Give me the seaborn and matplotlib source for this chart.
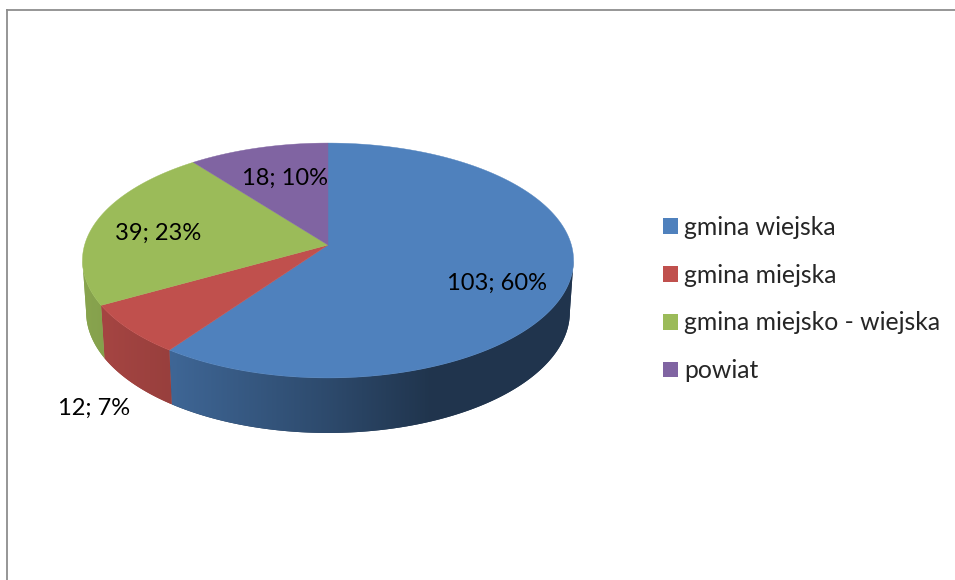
#!/usr/bin/env python3
"""
3D style pie chart of applicants by type of local government
"""

import numpy as np
import matplotlib
matplotlib.use('Agg')
import matplotlib.pyplot as plt
from matplotlib.patches import Patch, Polygon
import seaborn as sns

categories = ['gmina wiejska', 'gmina miejska', 'gmina miejsko - wiejska', 'powiat']
values = [103, 12, 39, 18]
slice_colors = ['#4F81BD', '#C0504D', '#9BBB59', '#8064A2']

# label anchor of each slice, in pixels
label_x = [497, 94, 158, 285]
label_y = [283, 408, 233, 178]


def project(theta, bottom=False):
    """Map an angle (clockwise from top) to the tilted pie, in pixels"""
    u, v = np.sin(theta), np.cos(theta)
    w = 1 + 0.132 * v
    x = 243.4 * u / w
    y = -115.4 * v / w
    if bottom:
        return 328 + 0.985 * x, 245 + 1.03 * y + 51
    return 328 + x, 245 + y


def wall_shade(x):
    """Side wall gets darker from left to right"""
    return np.interp(x, [83, 172, 330, 430], [0.88, 0.79, 0.57, 0.41])


def draw_pie(ax, colors):
    edges = 2 * np.pi * np.concatenate([[0], np.cumsum(values)]) / np.sum(values)
    # the wall runs between the two widest points of the top face
    wall_from = np.arccos(-0.132)
    wall_to = 2 * np.pi - wall_from

    # side wall first, horizontal gradient clipped to each slice's outline
    for i, color in enumerate(colors):
        start, end = max(edges[i], wall_from), min(edges[i + 1], wall_to)
        if start >= end:
            continue
        angles = np.linspace(start, end, 200)
        xt, yt = project(angles)
        xb, yb = project(angles, bottom=True)
        px = np.r_[xt, xb[::-1]]
        py = np.r_[yt, yb[::-1]]
        base = wall_shade(px.mean()) * np.array(color)
        ax.fill(px, py, color=tuple(base), lw=0, zorder=1.5)
        xs = np.linspace(px.min(), px.max(), 400)
        grad = wall_shade(xs)[None, :, None] * np.array(color)[None, None, :]
        im = ax.imshow(grad, extent=[px.min(), px.max(), py.max(), py.min()],
                       aspect='auto', zorder=2, interpolation='bilinear')
        outline = Polygon(np.c_[px, py], closed=True, transform=ax.transData)
        im.set_clip_path(outline)

    # top face
    for i, color in enumerate(colors):
        angles = np.linspace(edges[i], edges[i + 1], 200)
        x, y = project(angles)
        ax.fill(np.r_[328, x], np.r_[245, y], color=color, lw=0.3, zorder=3)


def main():
    sns.set_theme(style='white')
    plt.rcParams['font.family'] = ['Lato', 'DejaVu Sans']

    fig = plt.figure(figsize=(9.55, 5.8), dpi=100)
    ax = fig.add_axes([7 / 955, 0, 948 / 955, 570 / 580])

    colors = sns.color_palette(slice_colors)
    draw_pie(ax, colors)

    ax.set_xlim(7, 955)
    ax.set_ylim(580, 10)
    ax.set_xticks([])
    ax.set_yticks([])
    sns.despine(ax=ax, top=False, right=True, bottom=True)
    for side in ['left', 'top']:
        ax.spines[side].set_color('#8e8e8e')
        ax.spines[side].set_linewidth(1.3)

    total = np.sum(values)
    for val, x, y in zip(values, label_x, label_y):
        ax.text(x, y, f'{val}; {round(100 * val / total)}%', ha='center', va='center',
                fontsize=17, color='black', zorder=4)

    handles = [Patch(facecolor=c, edgecolor='none', label=n) for c, n in zip(colors, categories)]
    fs = 17.8
    ax.legend(handles=handles, loc='upper left', bbox_to_anchor=(663, 216),
              bbox_transform=ax.transData, frameon=False, fontsize=fs,
              borderpad=0, borderaxespad=0, handlelength=10.8 / fs, handleheight=10.8 / fs,
              handletextpad=4.6 / fs, labelspacing=1.0)

    fig.savefig('out.png', dpi=100, facecolor='white')


if __name__ == "__main__":
    main()
